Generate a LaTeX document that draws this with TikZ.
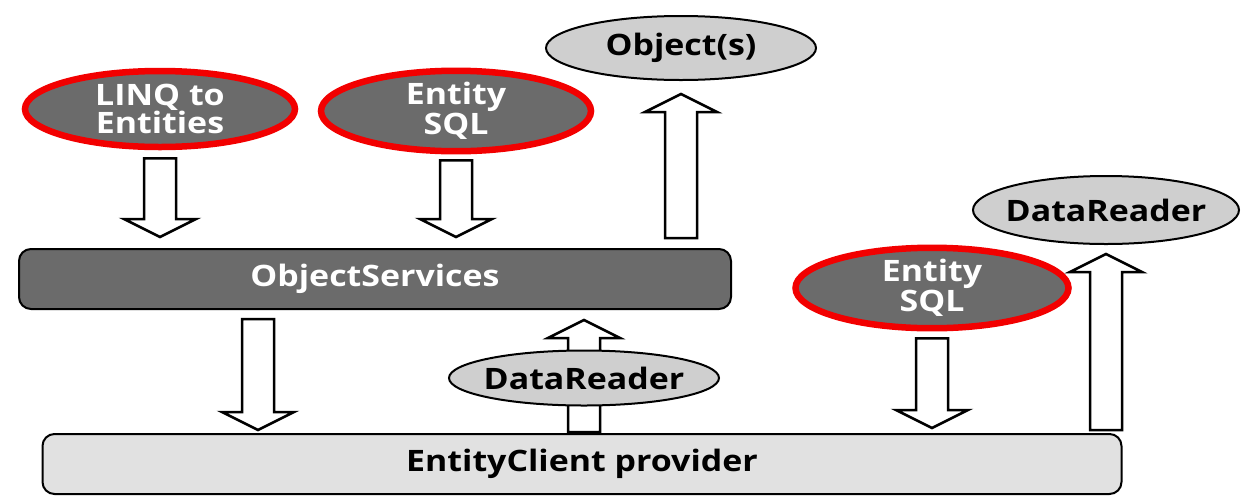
\documentclass[tikz,border=0pt]{standalone}
\usepackage{fontspec}
\setmainfont{Open Sans}[FakeStretch=1.15]
\usetikzlibrary{shapes.geometric,calc,backgrounds}

\definecolor{darkfill}{HTML}{6B6B6B}
\definecolor{lightfill}{HTML}{CFCFCF}
\definecolor{boxfill}{HTML}{E1E1E1}
\definecolor{redring}{HTML}{F20000}

\newcommand{\qfont}{\fontsize{29.5}{26}\selectfont\bfseries}

\tikzset{
  query/.style={ellipse,draw=redring,line width=6.5pt,fill=darkfill,text=white,
    minimum width=270pt,minimum height=76pt,inner sep=0pt,align=center,font=\qfont},
  result/.style={ellipse,draw=black,line width=2pt,fill=lightfill,text=black,
    inner xsep=-30pt,inner ysep=-8pt,font=\qfont},
  layer/.style={draw=black,line width=2pt,rounded corners=12pt,inner sep=0pt,font=\qfont},
  blockarr/.style={draw=black,line width=2.5pt,fill=white}
}

% hollow block arrow: from, to, gap at start, gap at end
\newcommand{\blockarrow}[4]{%
  \path ($(#1)!#3!(#2)$) coordinate (ba-s) ($(#2)!#4!(#1)$) coordinate (ba-e);
  \path ($(ba-e)!18pt!(ba-s)$) coordinate (ba-h);
  \draw[blockarr] ($(ba-s)!16pt!90:(ba-e)$) -- ($(ba-h)!16pt!-90:(ba-s)$)
    -- ($(ba-h)!36pt!-90:(ba-s)$) -- (ba-e) -- ($(ba-h)!36pt!90:(ba-s)$)
    -- ($(ba-h)!16pt!90:(ba-s)$) -- ($(ba-s)!16pt!-90:(ba-e)$) -- cycle;
}

\begin{document}
\begin{tikzpicture}[x=1pt,y=-1pt]
\useasboundingbox (0,0) rectangle (1243,499);

% queries
\node[query] (linq) at (160,109) {LINQ to\\Entities};
\node[query] (esql) at (456,111) {Entity\\SQL};
\node[result,minimum width=270pt,minimum height=64pt] (objs) at (681,48) {Object(s)};

% object services layer
\node[layer,fill=darkfill,text=white,minimum width=712pt,minimum height=60pt] (objsvc) at (375,279) {ObjectServices};
\coordinate (svcout) at (258,310);

\node[query,minimum width=273pt] (esql2) at (932,288) {Entity\\SQL};
\node[result,minimum width=266pt,minimum height=68pt] (drtop) at (1106,210) {DataReader};

% entity client layer
\node[layer,fill=boxfill,minimum width=1079pt,minimum height=60pt] (ecp) at (582,464) {EntityClient provider};
\node[result,minimum width=270pt,minimum height=55pt] (drmid) at (584,378) {DataReader};

\blockarrow{linq.south}{linq.south |- objsvc.north}{8pt}{11pt}
\blockarrow{esql.south}{esql.south |- objsvc.north}{6pt}{11pt}
\blockarrow{objs.south |- objsvc.north}{objs.south}{10pt}{13pt}

\blockarrow{svcout}{svcout |- ecp.north}{9pt}{3pt}
\begin{scope}[on background layer]
\blockarrow{drmid.south |- ecp.north}{drmid.north |- objsvc.south}{1pt}{10pt}
\end{scope}

\blockarrow{esql2.south}{esql2.south |- ecp.north}{7pt}{5pt}
\blockarrow{drtop.south |- ecp.north}{drtop.south}{3pt}{9pt}
\end{tikzpicture}
\end{document}
